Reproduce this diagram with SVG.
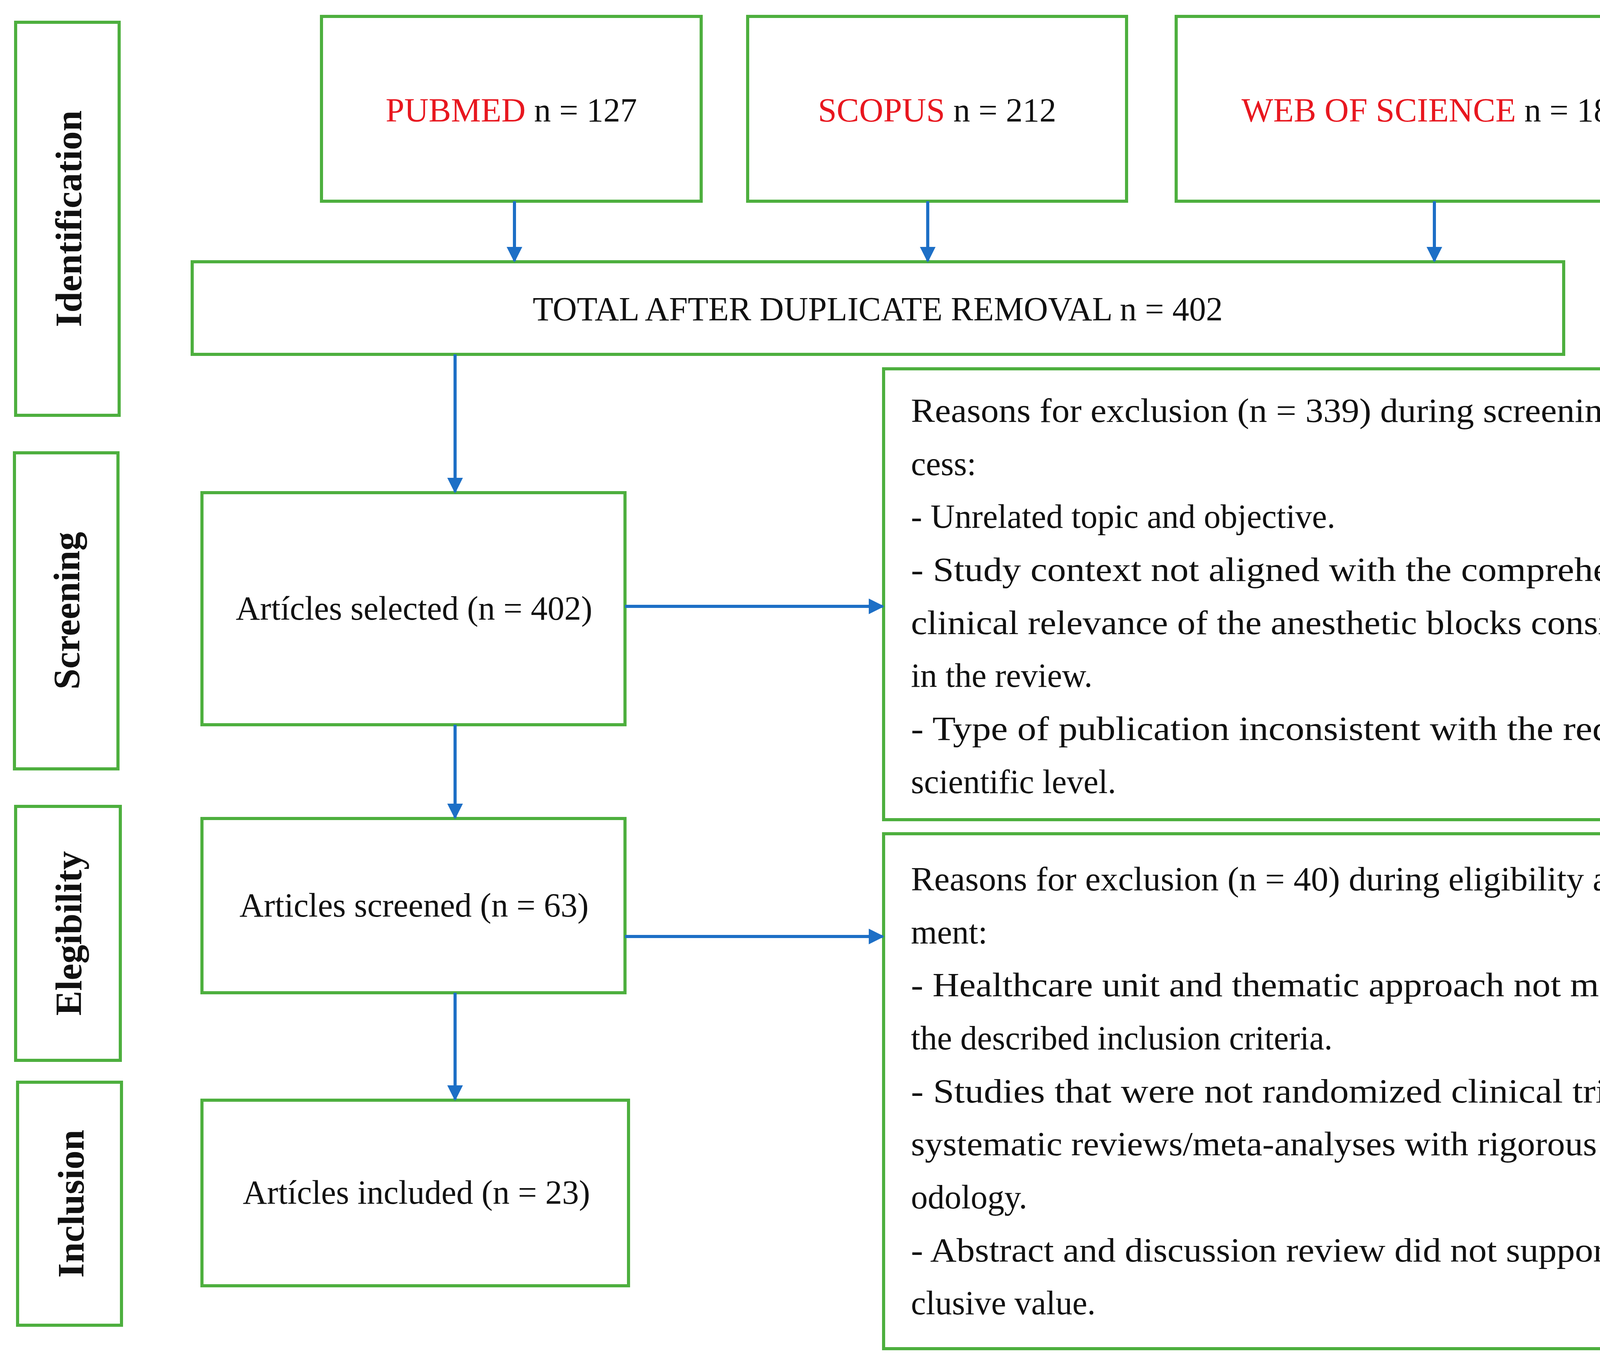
<svg xmlns="http://www.w3.org/2000/svg" width="4424" height="3481" viewBox="0 0 4424 3481">
<style>
.b{fill:#fff;stroke:#4DAF3E;stroke-width:8}
text{font-family:"Liberation Serif","Times New Roman",serif;font-size:86px;fill:#111}
.c{text-anchor:middle}
.s{font-weight:bold;font-size:96px;text-anchor:middle;dominant-baseline:central}
.r{fill:#E8171F}
.a{stroke:#1D6FC6;stroke-width:8;fill:none;marker-end:url(#h)}
</style>
<defs><marker id="h" viewBox="0 0 10 10" refX="9" refY="5" markerWidth="5" markerHeight="5" orient="auto" markerUnits="strokeWidth"><path d="M0,0L10,5L0,10z" fill="#1D6FC6"/></marker></defs>
<rect width="4424" height="3481" fill="#fff"/>
<g id="lab-identification"><rect class="b" x="40" y="57" width="265" height="1006"/><text class="s" transform="translate(175,560) rotate(-90)">Identification</text></g>
<g id="lab-screening"><rect class="b" x="37" y="1159" width="265" height="809"/><text class="s" transform="translate(170,1563) rotate(-90)">Screening</text></g>
<g id="lab-elegibility"><rect class="b" x="40" y="2064" width="268" height="650"/><text class="s" transform="translate(175,2389) rotate(-90)">Elegibility</text></g>
<g id="lab-inclusion"><rect class="b" x="45" y="2770" width="266" height="622"/><text class="s" transform="translate(181,3081) rotate(-90)">Inclusion</text></g>
<g id="pubmed"><rect class="b" x="823" y="42" width="972" height="473"/><text class="c" x="1309" y="311"><tspan class="r">PUBMED</tspan> n = 127</text></g>
<g id="scopus"><rect class="b" x="1914" y="42" width="970" height="473"/><text class="c" x="2399" y="311"><tspan class="r">SCOPUS</tspan> n = 212</text></g>
<g id="wos"><rect class="b" x="3011" y="42" width="1323" height="473"/><text class="c" x="3672" y="311"><tspan class="r">WEB OF SCIENCE</tspan> n = 181</text></g>
<g id="total"><rect class="b" x="492" y="670" width="3511" height="237"/><text class="c" x="2247" y="820">TOTAL AFTER DUPLICATE REMOVAL n = 402</text></g>
<g id="selected"><rect class="b" x="517" y="1261" width="1083" height="594"/><text class="c" x="1060" y="1586">Artícles selected (n = 402)</text></g>
<g id="screened"><rect class="b" x="517" y="2095" width="1083" height="446"/><text class="c" x="1060" y="2346">Articles screened (n = 63)</text></g>
<g id="included"><rect class="b" x="517" y="2816" width="1092" height="475"/><text class="c" x="1066" y="3081">Artícles included (n = 23)</text></g>
<g id="excl1"><rect class="b" x="2262" y="944" width="2134" height="1154"/>
<text x="2332" y="1080" textLength="1993" lengthAdjust="spacingAndGlyphs">Reasons for exclusion (n = 339) during screening pro-</text>
<text x="2332" y="1216">cess:</text>
<text x="2332" y="1351">- Unrelated topic and objective.</text>
<text x="2332" y="1487" textLength="1993" lengthAdjust="spacingAndGlyphs">- Study context not aligned with the comprehensive</text>
<text x="2332" y="1623" textLength="1993" lengthAdjust="spacingAndGlyphs">clinical relevance of the anesthetic blocks considered</text>
<text x="2332" y="1758">in the review.</text>
<text x="2332" y="1894" textLength="1993" lengthAdjust="spacingAndGlyphs">- Type of publication inconsistent with the required</text>
<text x="2332" y="2030">scientific level.</text></g>
<g id="excl2"><rect class="b" x="2262" y="2134" width="2134" height="1318"/>
<text x="2332" y="2279" textLength="1993" lengthAdjust="spacingAndGlyphs">Reasons for exclusion (n = 40) during eligibility assess-</text>
<text x="2332" y="2415">ment:</text>
<text x="2332" y="2550" textLength="1993" lengthAdjust="spacingAndGlyphs">- Healthcare unit and thematic approach not meeting</text>
<text x="2332" y="2686">the described inclusion criteria.</text>
<text x="2332" y="2822" textLength="1993" lengthAdjust="spacingAndGlyphs">- Studies that were not randomized clinical trials or</text>
<text x="2332" y="2957" textLength="1993" lengthAdjust="spacingAndGlyphs">systematic reviews/meta-analyses with rigorous meth-</text>
<text x="2332" y="3093">odology.</text>
<text x="2332" y="3229" textLength="1993" lengthAdjust="spacingAndGlyphs">- Abstract and discussion review did not support con-</text>
<text x="2332" y="3364">clusive value.</text></g>
<g id="connectors">
<path class="a" d="M1317,515V668"/>
<path class="a" d="M2375,515V668"/>
<path class="a" d="M3672,515V668"/>
<path class="a" d="M1165,907V1259"/>
<path class="a" d="M1165,1855V2093"/>
<path class="a" d="M1165,2541V2814"/>
<path class="a" d="M1600,1552H2260"/>
<path class="a" d="M1600,2397H2260"/>
</g>
</svg>
